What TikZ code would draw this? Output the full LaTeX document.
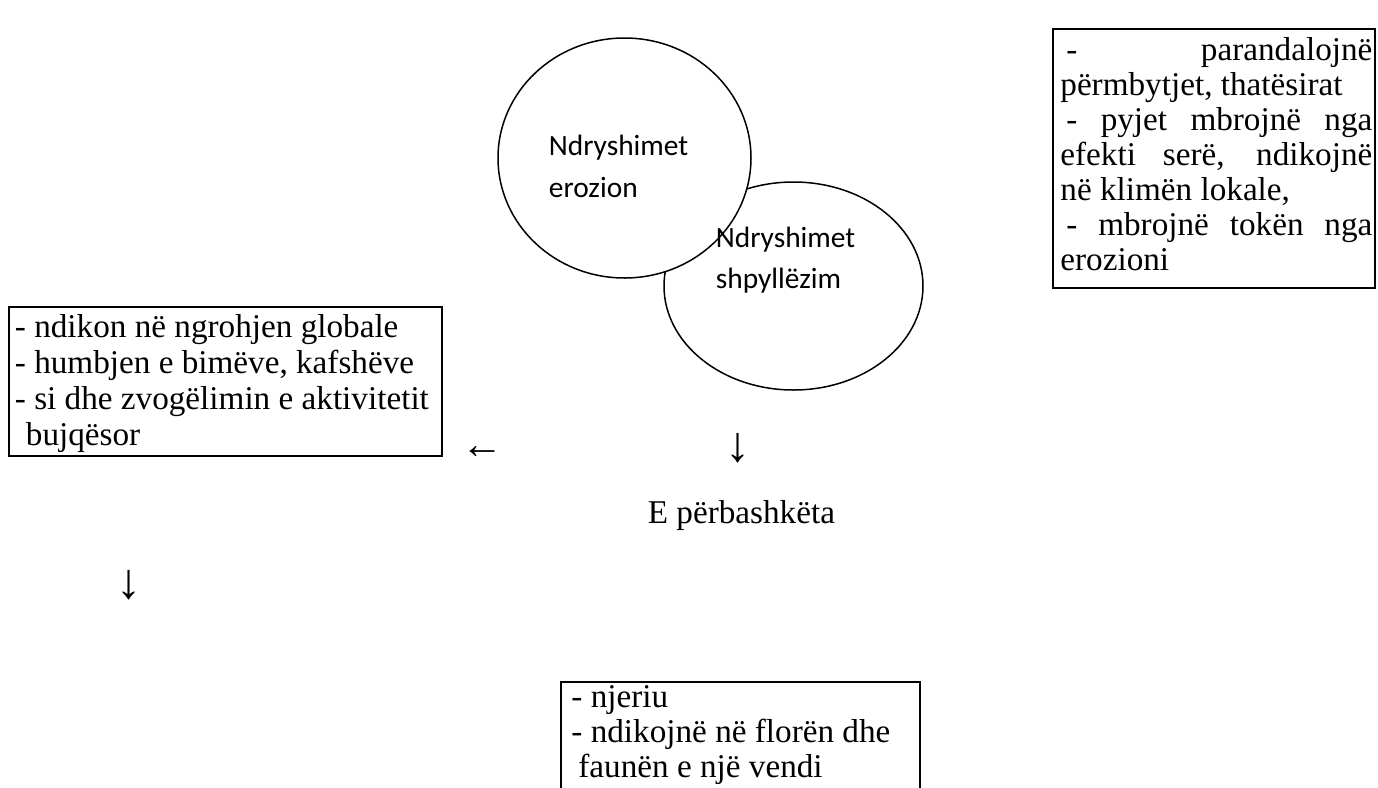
\documentclass[tikz,border=0pt]{standalone}
\usepackage{fontspec}
\setmainfont{Liberation Serif}
\newfontfamily\calibrifont{Carlito}
\usetikzlibrary{shapes.geometric}

\begin{document}
\begin{tikzpicture}[x=0.5pt, y=-0.5pt,
  ringline/.style={draw, line width=0.75pt},
  boxline/.style={draw, line width=1pt, rectangle, inner sep=0pt},
  txt/.style={anchor=base west, inner sep=0pt, font={\fontsize{16.6}{18}\selectfont}},
  ctxt/.style={anchor=base west, inner sep=0pt, font={\calibrifont\fontsize{14.7}{18}\selectfont}},
  lglyph/.style={anchor=base, inner sep=0pt, font={\fontsize{21}{22}\selectfont}},
  dglyph/.style={anchor=base, inner sep=0pt, font={\fontsize{25}{26}\selectfont}}]

\useasboundingbox (0,0) rectangle (1378,788);
\clip (0,0) rectangle (1378,788);

% the two overlapping shapes; the first one covers the second
\node[ellipse, ringline, inner sep=0pt, minimum width=129.5pt, minimum height=104pt] (shpyll) at (793.5,286) {};
\node[ellipse, ringline, fill=white, inner sep=0pt, minimum width=126.5pt, minimum height=120pt] (eroz) at (624.5,158) {};

\node[ctxt] (erozA) at (548.5,155) {Ndryshimet};
\node[ctxt] (erozB) at (548.5,197) {erozion};
\node[ctxt] (shpyllA) at (715.5,247) {Ndryshimet};
\node[ctxt] (shpyllB) at (715.5,288) {shpyllëzim};

% right box
\node[boxline, minimum width=161pt, minimum height=129.5pt] (rbox) at (1214,158.5) {};
\node[txt] (r1) at (1066,60) {\makebox[153pt][l]{-\hfill parandalojnë}};
\node[txt] (r2) at (1060,95) {përmbytjet, thatësirat};
\node[txt] (r3) at (1066,130) {\makebox[153pt][s]{- pyjet mbrojnë nga}};
\node[txt] (r4) at (1060,165) {\makebox[156pt][s]{efekti serë, ndikojnë}};
\node[txt] (r5) at (1060,200) {në klimën lokale,};
\node[txt] (r6) at (1066,235) {\makebox[153pt][s]{- mbrojnë tokën nga}};
\node[txt] (r7) at (1060,270) {erozioni};

% left box
\node[boxline, minimum width=216.5pt, minimum height=74.5pt] (lbox) at (225.5,381.5) {};
\node[txt] (l1) at (14.5,337) {- ndikon në ngrohjen globale};
\node[txt] (l2) at (14.5,373) {- humbjen e bimëve, kafshëve};
\node[txt] (l3) at (14.5,409) {- si dhe zvogëlimin e aktivitetit};
\node[txt] (l4) at (25.5,445) {bujqësor};

% arrows and the middle label
\node[lglyph] (arrL) at (482,458) {←};
\node[dglyph] (arrD) at (738,461) {↓};
\node[txt] (common) at (647.5,523) {E përbashkëta};
\node[dglyph] (arrD2) at (129,598) {↓};

% bottom box, running past the lower edge
\node[boxline, minimum width=179.5pt, minimum height=59pt] (bbox) at (740.5,741) {};
\node[txt] (b1) at (571,707) {- njeriu};
\node[txt] (b2) at (571,742) {- ndikojnë në florën dhe};
\node[txt] (b3) at (578,777) {faunën e një vendi};
\end{tikzpicture}
\end{document}
